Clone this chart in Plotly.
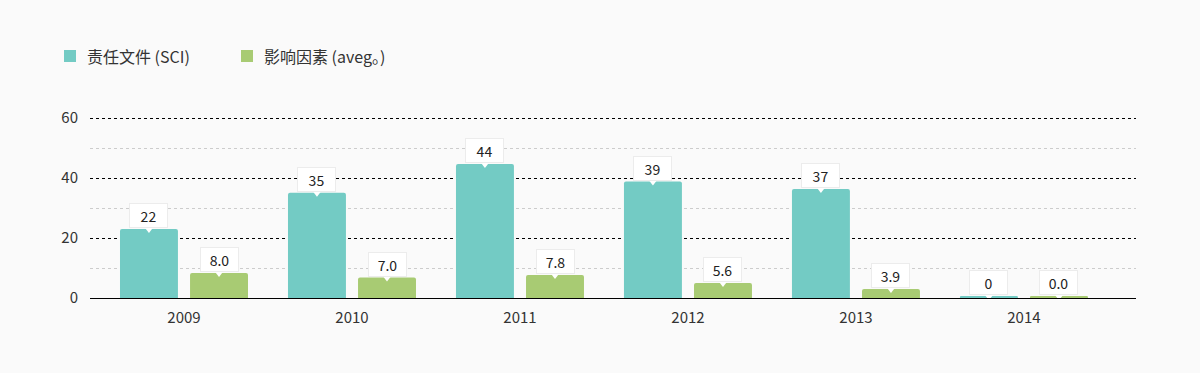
import plotly.graph_objects as go

years = ["2009", "2010", "2011", "2012", "2013", "2014"]
# bar heights as drawn in the picture
sci_values = [23.0, 35.1, 44.7, 38.8, 36.3, 0.6]
aveg_values = [8.3, 6.8, 7.7, 5.0, 3.0, 0.6]
# label texts as printed on the callouts
sci_labels = ["22", "35", "44", "39", "37", "0"]
aveg_labels = ["8.0", "7.0", "7.8", "5.6", "3.9", "0.0"]
series_names = ["责任文件 (SCI)", "影响因素 (aveg。)"]
y_ticks = [0, 20, 40, 60]
y_minor = [10, 30, 50]

TEAL = "#73cbc4"
GREEN = "#a8cb73"
FONT = "Noto Sans CJK SC"

W, H = 1200, 373
ML, MR, MT, MB = 90, 64, 118, 75
PW, PH = W - ML - MR, H - MT - MB

def px_x(p):
    return (p - ML) / PW

def px_y(p):
    return (H - MB - p) / PH

xs = list(range(len(years)))
bar_w = 0.345
off_sci = -0.381
off_avg = 0.036

fig = go.Figure()

# top grid line (at the range edge), nudged half a pixel down for a crisp line
top_y = y_ticks[-1] - 0.5 * (y_ticks[-1] - y_ticks[0]) / PH
fig.add_shape(type="line", xref="paper", yref="y", x0=0, x1=1, y0=top_y, y1=top_y,
              line=dict(color="#000", width=1, dash="dot"), layer="below")

fig.add_trace(go.Bar(x=xs, y=sci_values, name=series_names[0], width=bar_w, offset=off_sci,
                     marker=dict(color=TEAL, line=dict(width=0), cornerradius=2), showlegend=False))
fig.add_trace(go.Bar(x=xs, y=aveg_values, name=series_names[1], width=bar_w, offset=off_avg,
                     marker=dict(color=GREEN, line=dict(width=0), cornerradius=2), showlegend=False))

# pointer triangles
cx_sci = [x + off_sci + bar_w / 2 for x in xs]
cx_avg = [x + off_avg + bar_w / 2 for x in xs]
fig.add_trace(go.Scatter(x=cx_sci + cx_avg, y=sci_values + aveg_values, mode="markers",
                         marker=dict(symbol="triangle-down", size=8, color="white",
                                     line=dict(width=0)),
                         showlegend=False, hoverinfo="skip", cliponaxis=False))

for cx, h, t in list(zip(cx_sci, sci_values, sci_labels)) + list(zip(cx_avg, aveg_values, aveg_labels)):
    fig.add_annotation(x=cx, y=h, text=t, showarrow=False, yanchor="bottom", xanchor="center",
                       yshift=1, width=35, height=21, bgcolor="white", bordercolor="#ececec",
                       borderwidth=1, font=dict(family=FONT, size=14, color="#222"))

# manual legend
legend_items = [(64, series_names[0], TEAL), (241, series_names[1], GREEN)]
for lx, name, col in legend_items:
    fig.add_shape(type="rect", xref="paper", yref="paper",
                  x0=px_x(lx), x1=px_x(lx + 12), y0=px_y(62), y1=px_y(50),
                  fillcolor=col, line=dict(width=0))
    fig.add_annotation(xref="paper", yref="paper", x=px_x(lx + 21), y=px_y(56), text=name,
                       showarrow=False, xanchor="left", yanchor="middle",
                       font=dict(family=FONT, size=16, color="#333"))

fig.update_layout(
    width=W, height=H,
    margin=dict(l=ML, r=MR, t=MT, b=MB),
    paper_bgcolor="#fafafa", plot_bgcolor="#fafafa",
    font=dict(family=FONT, size=15, color="#333"),
    showlegend=False,
    xaxis=dict(range=[-0.5595, 5.667], tickmode="array", tickvals=xs, ticktext=years,
               showgrid=False, zeroline=False, showline=True, linecolor="#000", linewidth=1,
               ticks="outside", ticklen=6, tickcolor="rgba(0,0,0,0)",
               tickfont=dict(family=FONT, size=15, color="#333")),
    yaxis=dict(range=[0, y_ticks[-1]], tickvals=y_ticks, showline=False, zeroline=False,
               showgrid=True, gridcolor="#000", griddash="dot", gridwidth=1,
               ticks="outside", ticklen=8, tickcolor="rgba(0,0,0,0)",
               tickfont=dict(family=FONT, size=15, color="#333"),
               minor=dict(tickvals=y_minor, showgrid=True, gridcolor="#cccccc",
                          griddash="dot", gridwidth=1)),
)

fig.write_html("out.html", config={"displayModeBar": False},
               post_script="document.body.style.margin='0';document.body.style.background='#fafafa';")
